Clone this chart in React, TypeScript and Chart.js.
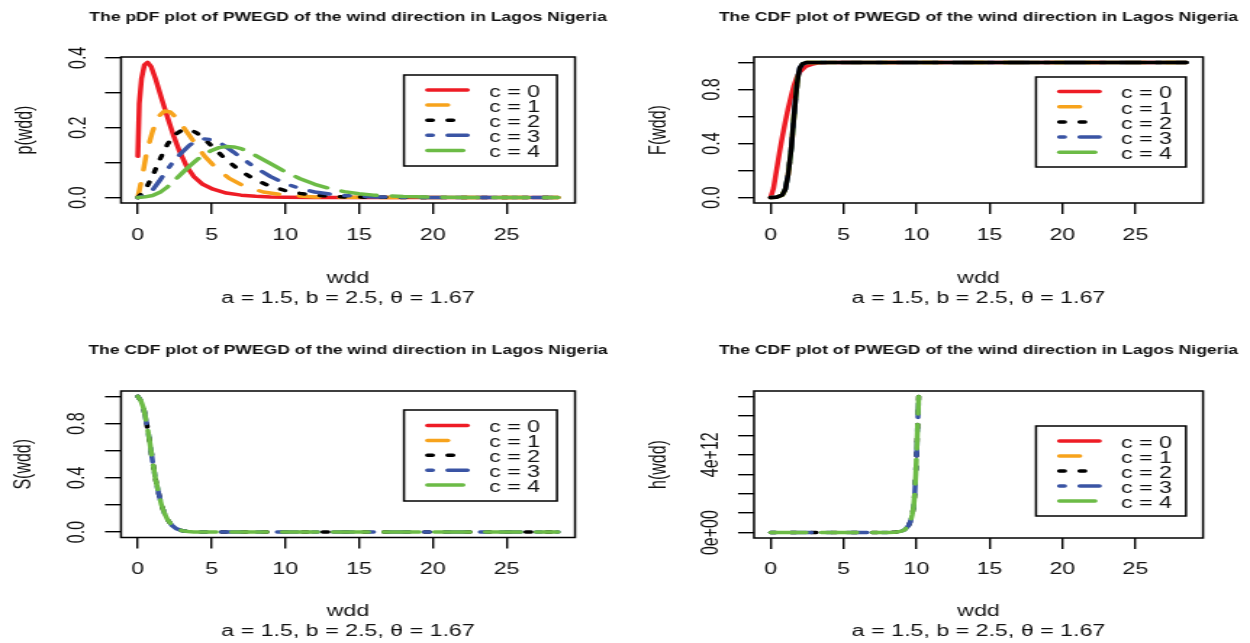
import React, { useEffect, useRef } from 'react';
import { Chart, registerables } from 'chart.js';

Chart.register(...registerables);

// ---------------- data ----------------
const seriesLabels = ['c = 0', 'c = 1', 'c = 2', 'c = 3', 'c = 4'];
const subtitleText = 'a = 1.5, b = 2.5, θ = 1.67';
const xLabelText = 'wdd';

const xTickValues = [0, 5, 10, 15, 20, 25];
const xTickLabels = ['0', '5', '10', '15', '20', '25'];
const pdfTickValues = [0, 0.1, 0.2, 0.3, 0.4];
const pdfTickLabels = ['0.0', '', '0.2', '', '0.4'];
const probTickValues = [0, 0.2, 0.4, 0.6, 0.8, 1.0];
const probTickLabels = ['0.0', '', '0.4', '', '0.8', ''];
const hazTickValues = [0, 1e12, 2e12, 3e12, 4e12, 5e12, 6e12, 7e12];
const hazTickLabels = ['0e+00', '', '', '', '4e+12', '', '', ''];

// pdf p(wdd)
const pdfX0 = [0, 0.1, 0.25, 0.45, 0.66, 0.9, 1.2, 1.6, 2.0, 2.4, 2.8, 3.3, 3.8, 4.4, 5.1, 6.0, 7.0, 8.0, 9.0, 10, 12, 15, 20, 25, 28.5];
const pdfY0 = [0.118, 0.27, 0.34, 0.38, 0.387, 0.375, 0.34, 0.285, 0.232, 0.18, 0.135, 0.09, 0.06, 0.038, 0.024, 0.013, 0.007, 0.004, 0.002, 0.001, 0, 0, 0, 0, 0];
const pdfX1 = [0, 0.3, 0.6, 1.0, 1.4, 1.8, 2.2, 2.7, 3.2, 3.8, 4.5, 5.3, 6.2, 7.2, 8.5, 10, 12, 14, 17, 20, 25, 28.5];
const pdfY1 = [0, 0.06, 0.13, 0.19, 0.232, 0.248, 0.245, 0.225, 0.195, 0.16, 0.12, 0.085, 0.055, 0.033, 0.016, 0.007, 0.002, 0.001, 0, 0, 0, 0];
const pdfX2 = [0, 0.5, 1.0, 1.5, 2.0, 2.5, 3.0, 3.5, 4.0, 4.5, 5.0, 5.5, 6.0, 7.0, 8.0, 9.0, 10, 11, 12, 13, 14, 16, 20, 25, 28.5];
const pdfY2 = [0, 0.022, 0.062, 0.11, 0.152, 0.18, 0.193, 0.195, 0.185, 0.168, 0.148, 0.128, 0.108, 0.075, 0.05, 0.032, 0.02, 0.012, 0.007, 0.004, 0.002, 0.001, 0, 0, 0];
const pdfX3 = [0, 0.5, 1.0, 1.5, 2.0, 2.5, 3.0, 3.5, 4.0, 4.5, 5.0, 5.5, 6.0, 6.5, 7.0, 8.0, 9.0, 10, 11, 12, 13, 14, 16, 18, 20, 25, 28.5];
const pdfY3 = [0, 0.005, 0.022, 0.05, 0.08, 0.108, 0.13, 0.15, 0.163, 0.168, 0.166, 0.158, 0.145, 0.13, 0.114, 0.085, 0.06, 0.04, 0.026, 0.016, 0.01, 0.006, 0.002, 0.001, 0, 0, 0];
const pdfX4 = [0, 0.5, 1.0, 1.5, 2.0, 2.5, 3.0, 3.5, 4.0, 4.5, 5.0, 5.5, 6.0, 6.5, 7.0, 7.5, 8.0, 9.0, 10, 11, 12, 13, 14, 15, 16, 18, 20, 25, 28.5];
const pdfY4 = [0, 0.002, 0.006, 0.015, 0.03, 0.05, 0.07, 0.09, 0.108, 0.123, 0.135, 0.143, 0.146, 0.145, 0.14, 0.132, 0.12, 0.097, 0.074, 0.054, 0.038, 0.026, 0.017, 0.011, 0.007, 0.003, 0.001, 0, 0];

// cdf F(wdd)
const cdfX0 = [0, 0.2, 0.4, 0.6, 0.8, 1.0, 1.2, 1.4, 1.6, 1.8, 2.0, 2.4, 2.8, 3.2, 4, 5, 10, 15, 20, 25, 28.5];
const cdfY0 = [0, 0.07, 0.2, 0.33, 0.45, 0.56, 0.66, 0.75, 0.83, 0.89, 0.93, 0.97, 0.985, 0.995, 1, 1, 1, 1, 1, 1, 1];
const cdfX = [0, 0.4, 0.8, 1.0, 1.2, 1.4, 1.5, 1.6, 1.7, 1.8, 1.9, 2.0, 2.2, 2.5, 3, 4, 5, 10, 15, 20, 25, 28.5];
const cdfY = [0, 0.002, 0.02, 0.06, 0.17, 0.35, 0.47, 0.6, 0.72, 0.83, 0.91, 0.96, 0.99, 1, 1, 1, 1, 1, 1, 1, 1, 1];

// survival S(wdd)
const survX = [0, 0.2, 0.4, 0.6, 0.8, 1.0, 1.2, 1.4, 1.6, 1.8, 2.0, 2.3, 2.6, 3.0, 3.4, 3.8, 4.5, 5, 10, 15, 20, 25, 28.5];
const survY = [1.0, 0.97, 0.91, 0.8, 0.67, 0.52, 0.39, 0.29, 0.2, 0.14, 0.095, 0.05, 0.025, 0.01, 0.004, 0.001, 0, 0, 0, 0, 0, 0, 0];

// hazard h(wdd)
const hazX = [0, 1, 2, 3, 4, 5, 6, 7, 8, 8.5, 8.9, 9.2, 9.45, 9.6, 9.7, 9.8, 9.88, 9.95, 10.02, 10.08, 10.15];
const hazY = [0, 0, 0, 0, 0, 0, 0, 0, 0.005e12, 0.02e12, 0.06e12, 0.15e12, 0.35e12, 0.6e12, 0.9e12, 1.3e12, 2.0e12, 3.0e12, 4.3e12, 5.6e12, 7.0e12];

const emptyX: number[] = [];
const emptyY: number[] = [];

// ---------------- styles ----------------
const FONT = '"Liberation Sans", Arial, Helvetica, sans-serif';
const TEXT = '#111111';
const seriesColors = ['#ee1c25', '#f7a31c', '#000000', '#3a54a4', '#6cbb46'];
const LW = 3.5;
const seriesDash = [[], [14, 14], [3.5, 10.5], [3.5, 10.5, 14, 10.5], [24.5, 10.5]];
const IW = 431; // internal canvas width
const S = 625 / IW; // horizontal stretch of the picture
const TL = 11; // tick length
const FS = 16;

type Spec = {
  title: string;
  ylab: string;
  yMin: number;
  yMax: number;
  yTicks: number[];
  yLabels: string[];
  xs: number[][];
  ys: number[][];
  order: number[]; // bottom -> top
  plotDash?: (number[] | undefined)[];
};

const specs: Spec[] = [
  {
    title: 'The pDF plot of PWEGD of the wind direction in Lagos Nigeria',
    ylab: 'p(wdd)', yMin: -0.0155, yMax: 0.4025,
    yTicks: pdfTickValues, yLabels: pdfTickLabels,
    xs: [pdfX0, pdfX1, pdfX2, pdfX3, pdfX4], ys: [pdfY0, pdfY1, pdfY2, pdfY3, pdfY4],
    order: [0, 1, 2, 3, 4],
  },
  {
    title: 'The CDF plot of PWEGD of the wind direction in Lagos Nigeria',
    ylab: 'F(wdd)', yMin: -0.04, yMax: 1.04,
    yTicks: probTickValues, yLabels: probTickLabels,
    xs: [cdfX0, cdfX, cdfX, cdfX, cdfX], ys: [cdfY0, cdfY, cdfY, cdfY, cdfY],
    order: [0, 1, 4, 3, 2],
    plotDash: [undefined, undefined, [], undefined, undefined],
  },
  {
    title: 'The CDF plot of PWEGD of the wind direction in Lagos Nigeria',
    ylab: 'S(wdd)', yMin: -0.04, yMax: 1.04,
    yTicks: probTickValues, yLabels: probTickLabels,
    xs: [emptyX, emptyX, survX, survX, survX], ys: [emptyY, emptyY, survY, survY, survY],
    order: [0, 1, 2, 3, 4],
  },
  {
    title: 'The CDF plot of PWEGD of the wind direction in Lagos Nigeria',
    ylab: 'h(wdd)', yMin: -0.28e12, yMax: 7.28e12,
    yTicks: hazTickValues, yLabels: hazTickLabels,
    xs: [emptyX, emptyX, hazX, hazX, hazX], ys: [emptyY, emptyY, hazY, hazY, hazY],
    order: [0, 1, 2, 3, 4],
  },
];

// screen geometry of each panel (page pixels)
const geos = [
  { left: 0, top: 0, h: 321, L: 121, T: 57, R: 575, B: 203, lgL: 404, lgT: 75, lgW: 153, lgH: 91, lgFirst: 15, lgStep: 15.1, titleY: 17.5, ylabX: 25, ytickX: 79, xtickY: 236, xlab2Y: 298.5 },
  { left: 625, top: 0, h: 321, L: 754, T: 57, R: 1203, B: 203, lgL: 1036, lgT: 77, lgW: 150, lgH: 90, lgFirst: 14.5, lgStep: 15.2, titleY: 17.5, ylabX: 659, ytickX: 713, xtickY: 236, xlab2Y: 298.5 },
  { left: 0, top: 321, h: 322, L: 121, T: 391, R: 575, B: 537.5, lgL: 404, lgT: 410, lgW: 153, lgH: 91, lgFirst: 15.5, lgStep: 14.9, titleY: 350.7, ylabX: 24, ytickX: 78, xtickY: 570, xlab2Y: 631.5 },
  { left: 625, top: 321, h: 322, L: 754, T: 391, R: 1203, B: 538, lgL: 1036, lgT: 426, lgW: 150, lgH: 90, lgFirst: 15, lgStep: 15, titleY: 350.7, ylabX: 659, ytickX: 712, xtickY: 570, xlab2Y: 631.5 },
];

const X_MIN = -1.14;
const X_MAX = 29.64;

function textWidth(font: string, s: string) {
  const c = document.createElement('canvas').getContext('2d')!;
  c.font = font;
  return c.measureText(s).width;
}

const rFrame = {
  id: 'rFrame',
  afterDatasetsDraw(chart: any, _args: any, opts: any) {
    const { ctx, chartArea: ca } = chart;
    ctx.save();
    ctx.strokeStyle = '#000';
    ctx.lineWidth = 1.5;
    ctx.setLineDash([]);
    ctx.strokeRect(ca.left, ca.top, ca.right - ca.left, ca.bottom - ca.top);
    ctx.fillStyle = TEXT;
    ctx.font = `bold 12.1px ${FONT}`;
    ctx.textAlign = 'center';
    ctx.textBaseline = 'middle';
    ctx.fillText(opts.title, (ca.left + ca.right) / 2, opts.titleY);
    ctx.restore();
  },
};

const rLegend = {
  id: 'rLegend',
  afterDatasetsDraw(chart: any, _args: any, o: any) {
    const { ctx } = chart;
    ctx.save();
    ctx.fillStyle = '#fff';
    ctx.fillRect(o.L, o.T, o.W, o.H);
    ctx.strokeStyle = '#000';
    ctx.lineWidth = 1.5;
    ctx.setLineDash([]);
    ctx.strokeRect(o.L, o.T, o.W, o.H);
    for (let i = 0; i < seriesLabels.length; i++) {
      const y = o.T + o.first + i * o.step;
      ctx.save();
      ctx.strokeStyle = seriesColors[i];
      ctx.lineWidth = LW;
      ctx.lineCap = 'round';
      ctx.setLineDash(seriesDash[i]);
      ctx.beginPath();
      ctx.moveTo(o.lineX, y);
      ctx.lineTo(o.lineX + 27.5, y);
      ctx.stroke();
      ctx.restore();
      ctx.fillStyle = TEXT;
      ctx.font = `${FS}px ${FONT}`;
      ctx.textAlign = 'left';
      ctx.textBaseline = 'middle';
      ctx.fillText(seriesLabels[i], o.textX, y + 2.5);
    }
    ctx.restore();
  },
};

function makeConfig(spec: Spec, g: any): any {
  const xi = (x: number) => (x - g.left) / S;
  const yi = (y: number) => y - g.top;
  const tickFont = { family: FONT, size: FS, lineHeight: 1.2 };
  const widest = Math.max(...spec.yLabels.map((l) => textWidth(`${FS}px ${FONT}`, l)));
  // Chart.js paints dataset 0 on top, so list top-most first
  const drawOrder = spec.order.slice().reverse();
  const datasets = drawOrder.map((i) => {
    const xs = spec.xs[i];
    const ys = spec.ys[i];
    const dash = spec.plotDash && spec.plotDash[i] ? spec.plotDash[i] : seriesDash[i];
    return {
      label: seriesLabels[i],
      data: xs.map((x, k) => ({ x, y: ys[k] })),
      borderColor: seriesColors[i],
      backgroundColor: seriesColors[i],
      borderWidth: LW,
      borderDash: dash,
      borderCapStyle: 'round',
      borderJoinStyle: 'round',
      pointRadius: 0,
      tension: 0,
      fill: false,
    };
  });
  const gridOpts = { drawOnChartArea: false, drawTicks: true, tickLength: TL, color: '#000', lineWidth: 1.4 };
  return {
    type: 'line',
    data: { datasets },
    options: {
      responsive: false,
      animation: false,
      events: [],
      layout: { padding: { left: 0, top: yi(g.T), right: IW - xi(g.R), bottom: 0 } },
      plugins: {
        legend: { display: false },
        tooltip: { enabled: false },
        title: { display: false },
        rFrame: { title: spec.title, titleY: yi(g.titleY) },
        rLegend: {
          L: xi(g.lgL), T: yi(g.lgT), W: g.lgW / S, H: g.lgH,
          first: g.lgFirst, step: g.lgStep,
          lineX: xi(g.lgL) + 23.5 / S, textX: xi(g.lgL) + 85 / S,
        },
      },
      scales: {
        x: {
          type: 'linear',
          position: 'bottom',
          min: X_MIN,
          max: X_MAX,
          afterBuildTicks: (sc: any) => { sc.ticks = xTickValues.map((v) => ({ value: v })); },
          afterFit: (sc: any) => { sc.height = g.h - yi(g.B); },
          ticks: {
            font: tickFont, color: TEXT,
            padding: (g.xtickY - g.B) - TL - 9.6,
            maxRotation: 0, minRotation: 0, autoSkip: false,
            callback: (_v: any, i: number) => xTickLabels[i],
          },
          grid: gridOpts,
          border: { display: false },
          title: {
            display: true,
            text: [xLabelText, subtitleText],
            font: { family: FONT, size: FS, lineHeight: 19.5 / 16 },
            color: TEXT,
            padding: { top: 0, bottom: g.h - yi(g.xlab2Y) - 9.75 },
          },
        },
        y: {
          type: 'linear',
          position: 'left',
          min: spec.yMin,
          max: spec.yMax,
          afterBuildTicks: (sc: any) => { sc.ticks = spec.yTicks.map((v) => ({ value: v })); },
          afterFit: (sc: any) => { sc.width = xi(g.L); },
          ticks: {
            font: tickFont, color: TEXT,
            minRotation: 90, maxRotation: 90, crossAlign: 'center',
            padding: xi(g.L) - xi(g.ytickX) - TL - widest / 2,
            autoSkip: false,
            callback: (_v: any, i: number) => spec.yLabels[i],
          },
          grid: gridOpts,
          border: { display: false },
          title: {
            display: true,
            text: spec.ylab,
            font: { family: FONT, size: FS, lineHeight: 1.2 },
            color: TEXT,
            padding: { top: xi(g.ylabX) - 9.6, bottom: 0 },
          },
        },
      },
    },
    plugins: [rFrame, rLegend],
  };
}

function Panel({ spec, g }: { spec: Spec; g: any }) {
  const ref = useRef<HTMLCanvasElement>(null);
  useEffect(() => {
    const chart = new Chart(ref.current as HTMLCanvasElement, makeConfig(spec, g));
    return () => chart.destroy();
  }, []);
  return (
    <canvas
      ref={ref}
      width={IW}
      height={g.h}
      style={{ position: 'absolute', left: g.left, top: g.top, width: 625, height: g.h }}
    />
  );
}

export default function App() {
  return (
    <div style={{ position: 'fixed', left: 0, top: 0, width: 1250, height: 643, background: '#fff', overflow: 'hidden' }}>
      {specs.map((s, i) => (
        <Panel key={i} spec={s} g={geos[i]} />
      ))}
    </div>
  );
}
